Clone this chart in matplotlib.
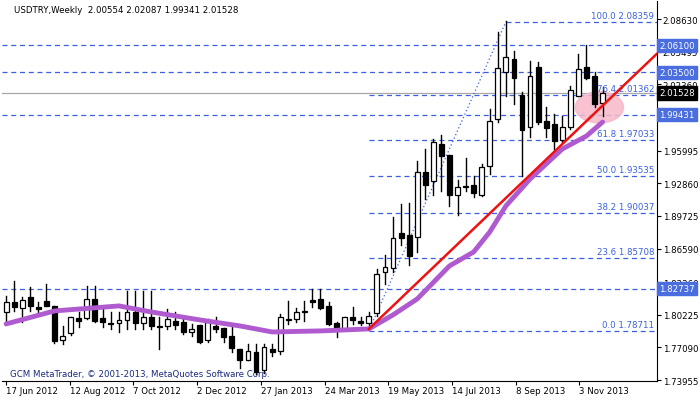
import matplotlib
matplotlib.use("Agg")
import matplotlib.pyplot as plt
from matplotlib.patches import Rectangle, Ellipse
import numpy as np

opens = [1.8050,1.8146,1.8088,1.8194,1.8098,1.8156,1.8108,1.7781,1.7849,1.7993,
         1.7993,1.8175,1.7993,1.7945,1.7945,1.7974,1.8050,1.7945,1.8002,1.7916,
         1.7916,1.7964,1.7954,1.7858,1.7926,1.7781,1.7916,1.7897,1.7820,1.7695,
         1.7589,1.7666,1.7494,1.7695,1.7676,1.7974,1.7983,1.8050,1.8165,1.8175,
         1.8108,1.7945,1.7887,1.8002,1.7964,1.7945,1.8040,1.8434,1.8473,1.8809,
         1.8789,1.8770,1.9394,1.9308,1.9663,1.9557,1.9173,1.9260,1.9269,1.9173,
         1.9452,1.9903,2.0354,2.0479,2.0133,1.9826,2.0402,1.9884,1.9855,1.9701,
         1.9826,2.0124,2.0402,2.0316,2.00554]
closes = [1.8146,1.8098,1.8165,1.8108,1.8079,1.8108,1.7772,1.7820,1.8002,1.7964,
          1.8175,1.7964,1.7954,1.7935,1.7974,1.8050,1.7945,1.8002,1.7916,1.7906,
          1.7983,1.7926,1.7858,1.7887,1.7762,1.7954,1.7887,1.7810,1.7705,1.7589,
          1.7676,1.7474,1.7714,1.7666,1.8002,1.7983,1.8050,1.8060,1.8146,1.8088,
          1.7935,1.7887,1.8002,1.7974,1.7945,1.8012,1.8415,1.8482,1.8761,1.8761,
          1.8588,1.9394,1.9269,1.9682,1.9548,1.9173,1.9250,1.9250,1.9193,1.9442,
          1.9884,2.0393,2.0498,2.0297,1.9797,2.0316,1.9874,1.9817,1.9692,1.9826,
          2.0181,2.0383,2.0297,2.0047,2.01528]
highs = [1.8204,1.8348,1.8194,1.8290,1.8146,1.8319,1.8108,1.7916,1.8002,1.8050,
         1.8300,1.8300,1.8079,1.8050,1.8050,1.8252,1.8252,1.8252,1.8252,1.8002,
         1.8079,1.8050,1.8002,1.7935,1.7926,1.7983,1.8002,1.7897,1.7916,1.7695,
         1.7743,1.7743,1.7743,1.7743,1.8031,1.8156,1.8088,1.8156,1.8271,1.8271,
         1.8146,1.7954,1.8002,1.8098,1.8002,1.8050,1.8463,1.8597,1.8962,1.9087,
         1.9097,1.9500,1.9615,1.9711,1.9749,1.9557,1.9317,1.9529,1.9356,1.9471,
         1.9999,2.0738,2.0844,2.0556,2.0162,2.0460,2.0450,2.0018,1.9951,1.9932,
         2.0220,2.0527,2.0613,2.0354,2.02087]
lows = [1.7954,1.8060,1.7954,1.8060,1.8050,1.8108,1.7753,1.7743,1.7829,1.7906,
        1.7983,1.7954,1.7906,1.7887,1.7858,1.7887,1.7887,1.7887,1.7887,1.7695,
        1.7887,1.7887,1.7839,1.7820,1.7753,1.7762,1.7858,1.7762,1.7666,1.7513,
        1.7589,1.7455,1.7465,1.7628,1.7647,1.7935,1.7954,1.7964,1.8098,1.8079,
        1.7926,1.7810,1.7877,1.7935,1.7926,1.7916,1.8012,1.8319,1.8434,1.8693,
        1.8501,1.8626,1.9135,1.9173,1.9212,1.9068,1.8981,1.9212,1.9154,1.9164,
        1.9375,1.9874,2.0124,2.0047,1.9356,1.9730,1.9855,1.9730,1.9615,1.9682,
        1.9807,2.0124,2.0287,2.0018,1.99341]

ma_idx = [0,6,14,18,24,29,33,39,45,48,51,55,58,60,62,65,69,72,74]
ma_val = [1.7935,1.8060,1.8108,1.8050,1.7974,1.7916,1.7858,1.7868,1.7887,1.8022,
          1.8175,1.8492,1.8626,1.8818,1.9068,1.9327,1.9615,1.9740,1.9874]

trend_idx = [45, 80.7]
trend_val = [1.7887, 2.0527]
fib_idx = [45, 62]
fib_val = [1.78711, 2.08359]

fib_levels = [("100.0", 2.08359), ("76.4", 2.01362), ("61.8", 1.97033), ("50.0", 1.93535),
              ("38.2", 1.90037), ("23.6", 1.85708), ("0.0", 1.78711)]
hlines = [2.06100, 2.03500, 1.99431, 1.82737]
cur_price = 2.01528
yticks = [2.08630,2.05495,2.02360,1.99225,1.95995,1.92860,1.89725,1.86590,1.83360,1.80225,1.77090,1.73955]
xlabels = ["17 Jun 2012","12 Aug 2012","7 Oct 2012","2 Dec 2012","27 Jan 2013",
           "24 Mar 2013","19 May 2013","14 Jul 2013","8 Sep 2013","3 Nov 2013"]

BLUE = "#3a5fe0"
FS = 6.2
fig = plt.figure(figsize=(7, 4.02), dpi=100)
ax = fig.add_axes([0.003, 0.05, 0.935, 0.945])
x0, x1 = -0.5, 80.7
ax.set_xlim(x0, x1)
ax.set_ylim(1.7388, 2.1036)

for lab, v in fib_levels:
    start = 62 if lab == "100.0" else 45
    ax.plot([start, x1], [v, v], ls=(0, (4, 3)), color=BLUE, lw=0.9, zorder=1)
    ax.text(x1 - 0.3, v + 0.002, f"{lab} {v:.5f}", color=BLUE, fontsize=FS, ha="right", va="bottom",
            zorder=5)
for v in hlines:
    ax.axhline(v, ls=(0, (4, 3)), color=BLUE, lw=0.9, zorder=1)
ax.axhline(cur_price, color="#a8a8a8", lw=0.9, zorder=1)

ax.plot(fib_idx, fib_val, ls=(0, (1, 2)), color=BLUE, lw=0.9, zorder=1)

ax.add_patch(Ellipse((73.6, 2.0015), 6.0, 0.03, color="#f7b8c8", alpha=0.85, zorder=2))

w = 0.6
for i, (o, c, h, l) in enumerate(zip(opens, closes, highs, lows)):
    ax.plot([i, i], [l, h], color="black", lw=1, zorder=3)
    fc = "white" if c >= o else "black"
    ax.add_patch(Rectangle((i - w / 2, min(o, c)), w, max(abs(c - o), 0.0004),
                           facecolor=fc, edgecolor="black", lw=0.9, zorder=4))

ax.plot(ma_idx, ma_val, color="#b05ad0", lw=3.5, solid_capstyle="round", zorder=5)
ax.plot(trend_idx, trend_val, color="#ee1111", lw=1.8, zorder=6)

ax.yaxis.tick_right()
ax.set_yticks(yticks)
ax.set_yticklabels([f"{t:.5f}" for t in yticks], fontsize=FS)
ax.tick_params(axis="y", length=3, pad=1.5)
xt = np.arange(len(xlabels)) * 7.9
ax.set_xticks(xt)
ax.set_xticklabels(xlabels, fontsize=FS, ha="left")
ax.tick_params(axis="x", length=3, pad=1)
for s in ["top", "left"]:
    ax.spines[s].set_visible(False)

def box(v, txt, bg):
    ax.text(x1 + 0.35, v, txt, fontsize=FS, color="white", va="center", ha="left",
            clip_on=False, zorder=10,
            bbox=dict(boxstyle="square,pad=0.25", fc=bg, ec=bg))
for v in hlines:
    box(v, f"{v:.5f}", "#4a6ee0")
box(cur_price, f"{cur_price:.5f}", "black")

fig.text(0.02, 0.985, "USDTRY,Weekly  2.00554 2.02087 1.99341 2.01528", fontsize=FS, va="top")
ax.text(0.5, 1.7415, "GCM MetaTrader, © 2001-2013, MetaQuotes Software Corp.", fontsize=FS,
        color="#1a2a80", va="bottom")
fig.savefig("out.png", dpi=100)
